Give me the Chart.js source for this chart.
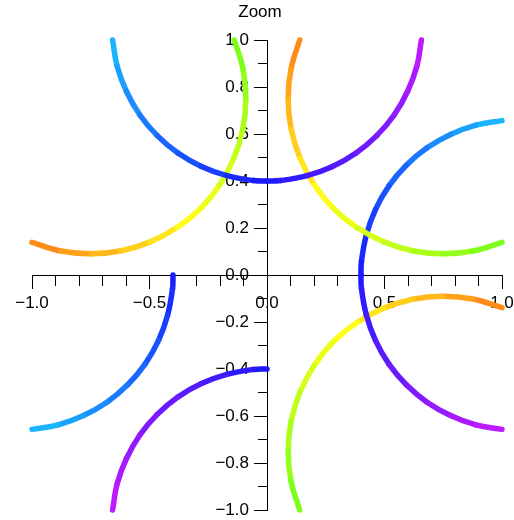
<!DOCTYPE html>
<html>
<head>
<meta charset="utf-8">
<script src="https://cdn.jsdelivr.net/npm/chart.js@4/dist/chart.umd.min.js"></script>
<style>
  body { margin: 0; background: #fff; }
  #wrap { width: 514px; height: 520px; }
</style>
</head>
<body>
<div id="wrap"><canvas id="zoomChart" width="514" height="520"></canvas></div>
<script>
// arc points (x, y) along each curve
const arcTopX = [-0.657, -0.638, -0.598, -0.541, -0.467, -0.379, -0.279, -0.171, -0.058, 0, 0.058, 0.171, 0.279, 0.379, 0.467, 0.541, 0.598, 0.638, 0.657];
const arcTopY = [1.0, 0.889, 0.781, 0.681, 0.593, 0.519, 0.462, 0.423, 0.402, 0.400, 0.402, 0.423, 0.462, 0.519, 0.593, 0.681, 0.781, 0.889, 1.0];

const arcRightX = [1.0, 0.889, 0.781, 0.681, 0.593, 0.519, 0.462, 0.423, 0.402, 0.400, 0.402, 0.423, 0.462, 0.519, 0.593, 0.681, 0.781, 0.889, 1.0];
const arcRightY = [0.657, 0.638, 0.598, 0.541, 0.467, 0.379, 0.279, 0.171, 0.058, 0, -0.058, -0.171, -0.279, -0.379, -0.467, -0.541, -0.598, -0.638, -0.657];

const arcLeftX = [-0.400, -0.402, -0.423, -0.462, -0.519, -0.593, -0.681, -0.781, -0.889, -1.0];
const arcLeftY = [0, -0.058, -0.171, -0.279, -0.379, -0.467, -0.541, -0.598, -0.638, -0.657];

const arcBottomX = [0, -0.058, -0.171, -0.279, -0.379, -0.467, -0.541, -0.598, -0.638, -0.657];
const arcBottomY = [-0.400, -0.402, -0.423, -0.462, -0.519, -0.593, -0.681, -0.781, -0.889, -1.0];

const arcUpLeftX = [-1.0, -0.876, -0.748, -0.620, -0.497, -0.383, -0.283, -0.202, -0.141, -0.103, -0.090, -0.102, -0.139];
const arcUpLeftY = [0.139, 0.102, 0.090, 0.103, 0.141, 0.202, 0.283, 0.383, 0.497, 0.620, 0.748, 0.876, 1.0];

const arcUpRightX = [0.139, 0.102, 0.090, 0.103, 0.141, 0.202, 0.283, 0.383, 0.497, 0.620, 0.748, 0.876, 1.0];
const arcUpRightY = [1.0, 0.876, 0.748, 0.620, 0.497, 0.383, 0.283, 0.202, 0.141, 0.103, 0.090, 0.102, 0.139];

const arcLowRightX = [1.0, 0.876, 0.748, 0.620, 0.497, 0.383, 0.283, 0.202, 0.141, 0.103, 0.090, 0.102, 0.139];
const arcLowRightY = [-0.139, -0.102, -0.090, -0.103, -0.141, -0.202, -0.283, -0.383, -0.497, -0.620, -0.748, -0.876, -1.0];

// axis ticks
const xMajorStep = 0.5;
const yMajorStep = 0.2;
const minorStep = 0.1;

function toPoints(xs, ys) {
  return xs.map((x, i) => ({ x: x, y: ys[i] }));
}

// hue runs from h0 to h1 along the length of the curve
function hueSegments(points, h0, h1) {
  const cum = [0];
  for (let i = 1; i < points.length; i++) {
    const dx = points[i].x - points[i - 1].x;
    const dy = points[i].y - points[i - 1].y;
    cum.push(cum[i - 1] + Math.sqrt(dx * dx + dy * dy));
  }
  const total = cum[cum.length - 1];
  return (ctx) => {
    const i = ctx.p0DataIndex;
    const t = (cum[i] + cum[i + 1]) / 2 / total;
    const h = h0 + (h1 - h0) * t;
    return "hsl(" + h.toFixed(1) + ", 100%, 55%)";
  };
}

function arcDataset(xs, ys, h0, h1) {
  const pts = toPoints(xs, ys);
  const colorFn = hueSegments(pts, h0, h1);
  return {
    data: pts,
    showLine: true,
    borderWidth: 5.5,
    borderColor: colorFn({ p0DataIndex: 0 }),
    segment: { borderColor: colorFn },
    borderCapStyle: "round",
    borderJoinStyle: "round",
    pointRadius: 0,
    pointHoverRadius: 0,
    tension: 0.4,
    clip: false,
  };
}

function fmt(v) {
  return v.toFixed(1).replace("-", "\u2212");
}

const axisFont = { family: "'Liberation Sans', Arial, sans-serif", size: 17 };

function axis(dir, step, tickLen, labels) {
  return {
    type: "linear",
    axis: dir,
    position: "center",
    min: -1,
    max: 1,
    border: { display: true, color: "#000", width: 1 },
    grid: { drawOnChartArea: false, drawTicks: true, tickLength: tickLen, color: "#000", tickWidth: 1 },
    ticks: {
      display: labels,
      stepSize: step,
      autoSkip: false,
      maxRotation: 0,
      padding: 5,
      color: "#000",
      font: axisFont,
      callback: (v) => fmt(v),
    },
    // labels may hang past the plot edges; don't let them shrink the plot
    afterFit: (s) => {
      s.paddingLeft = 0;
      s.paddingRight = 0;
      s.paddingTop = 0;
      s.paddingBottom = 0;
    },
  };
}

// title drawn above the plot
const titlePlugin = {
  id: "plotTitle",
  afterDraw(chart) {
    const c = chart.ctx;
    c.save();
    c.fillStyle = "#000";
    c.font = "17px 'Liberation Sans', Arial, sans-serif";
    c.textAlign = "center";
    c.textBaseline = "middle";
    c.fillText("Zoom", 260, 12);
    c.restore();
  },
};

const ctx = document.getElementById("zoomChart").getContext("2d");
new Chart(ctx, {
  type: "scatter",
  data: {
    datasets: [
      arcDataset(arcTopX, arcTopY, 197, 285),
      arcDataset(arcUpLeftX, arcUpLeftY, 27, 97),
      arcDataset(arcUpRightX, arcUpRightY, 27, 97),
      arcDataset(arcRightX, arcRightY, 197, 285),
      arcDataset(arcLowRightX, arcLowRightY, 27, 97),
      arcDataset(arcLeftX, arcLeftY, 240, 197),
      arcDataset(arcBottomX, arcBottomY, 240, 285),
    ],
  },
  options: {
    responsive: false,
    animation: false,
    layout: { padding: { left: 32, right: 12, top: 40, bottom: 10 } },
    plugins: {
      legend: { display: false },
      title: { display: false },
      tooltip: { enabled: false },
    },
    scales: {
      xMinor: axis("x", minorStep, 10, false),
      yMinor: axis("y", minorStep, 9, false),
      x: axis("x", xMajorStep, 13, true),
      y: axis("y", yMajorStep, 13, true),
    },
  },
  plugins: [titlePlugin],
});
</script>
</body>
</html>
